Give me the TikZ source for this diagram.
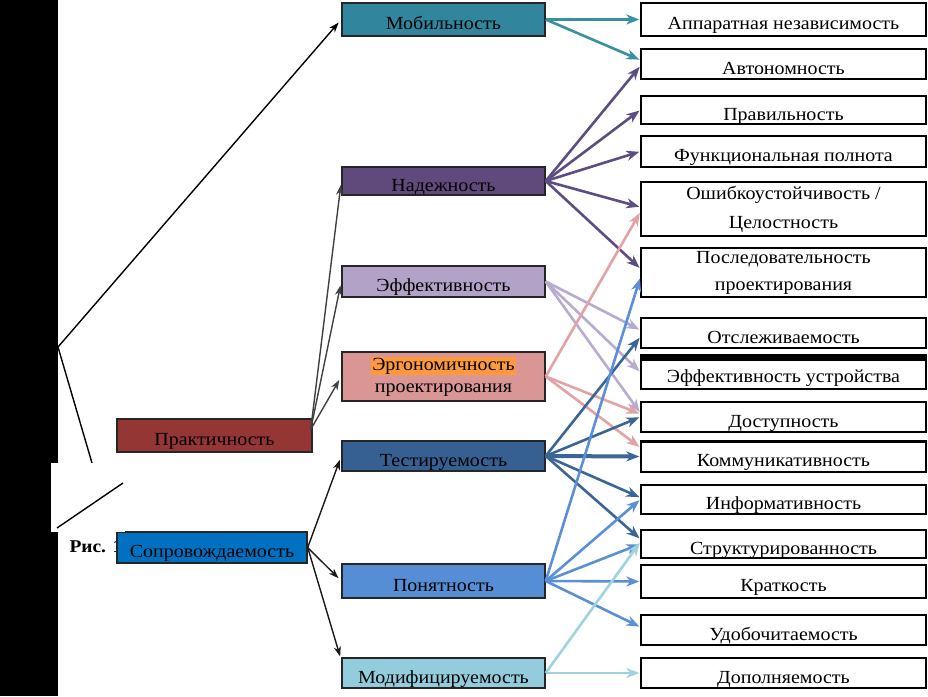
\documentclass[tikz,border=0pt]{standalone}
\usepackage{fontspec}
\setmainfont{Liberation Serif}[FakeStretch=1.08]
\usetikzlibrary{arrows.meta,calc}
\definecolor{cMob}{HTML}{31859C}
\definecolor{cNad}{HTML}{604A7B}
\definecolor{cEff}{HTML}{B3A2C7}
\definecolor{cErg}{HTML}{DA9694}
\definecolor{cOrg}{HTML}{FF9A3C}
\definecolor{cTest}{HTML}{376092}
\definecolor{cPon}{HTML}{558ED5}
\definecolor{cMod}{HTML}{93CDDD}
\definecolor{cPrakt}{HTML}{943634}
\definecolor{cSopr}{HTML}{0070C0}
\definecolor{lMob}{HTML}{3A8FA0}
\definecolor{lNad}{HTML}{5E4C84}
\definecolor{lEff}{HTML}{B9AACF}
\definecolor{lErg}{HTML}{E3A3A6}
\definecolor{lTest}{HTML}{3B6595}
\definecolor{lPon}{HTML}{5B8FD8}
\definecolor{lMod}{HTML}{9FD3DE}
\begin{document}
\begin{tikzpicture}[x=1pt,y=-1pt,
  font=\fontsize{18.5}{29}\selectfont,
  base/.style={draw=black!85, line width=1.4pt, inner sep=0pt, anchor=center, text=black},
  one/.style={text height=20.5pt, text depth=0pt},
  two/.style={align=center},
  midbox/.style={base, minimum width=203pt},
  rbox/.style={base, draw=black, fill=white, minimum width=285pt},
  conn/.style={line width=2.6pt, -{Stealth[length=13pt,width=10pt,inset=4pt]}, shorten >=1pt},
  lconn/.style={line width=1.4pt, black!75, -{Stealth[length=10pt,width=7pt,inset=3pt]}, shorten >=4pt}]
\useasboundingbox[fill=white] (0,0) rectangle (928,696);

% left artefacts
\fill[black] (0,0) rectangle (58,696);
\coordinate (hub) at (58,347);
\coordinate (cut) at (92,463);
\coordinate (s1) at (57,528);
\coordinate (s2) at (123,483);

% middle boxes
\node[midbox, fill=cMob, minimum height=33pt, one] (mob) at (443.5,19.5) {Мобильность};
\node[midbox, fill=cNad, minimum height=28pt, one] (nad) at (443.5,181) {Надежность};
\node[midbox, fill=cEff, minimum height=31pt, one] (eff) at (443.5,281.5) {Эффективность};
\node[midbox, fill=cErg, minimum height=49pt, two, font=\fontsize{18.5}{22}\selectfont] (erg) at (443.5,376.5) {{\fboxsep=1.2pt\colorbox{cOrg}{Эргономичность}}\\проектирования};
\node[midbox, fill=cTest, minimum height=30pt, one] (test) at (443.5,456) {Тестируемость};
\node[midbox, fill=cPon, minimum height=34pt, one] (pon) at (443.5,581) {Понятность};
\node[midbox, fill=cMod, minimum height=30pt, one] (mod) at (443.5,673) {Модифицируемость};

% right boxes
\node[rbox, minimum height=33pt, one] (r1) at (783.5,19.5) {Аппаратная независимость};
\node[rbox, minimum height=30pt, one] (r2) at (783.5,64) {Автономность};
\node[rbox, minimum height=28pt, one] (r3) at (783.5,110) {Правильность};
\node[rbox, minimum height=31pt, one] (r4) at (783.5,151.5) {Функциональная полнота};
\node[rbox, minimum height=54pt, two] (r5) at (783.5,209) {Ошибкоустойчивость /\\Целостность};
\node[rbox, minimum height=49pt, two, font=\fontsize{18.5}{27}\selectfont] (r6) at (783.5,272.5) {Последовательность\\проектирования};
\node[rbox, minimum height=30pt, one] (r7) at (783.5,333) {Отслеживаемость};
\node[rbox, minimum height=34pt, one] (r8) at (783.5,372) {Эффективность устройства};
\node[rbox, minimum height=30pt, one] (r9) at (783.5,417) {Доступность};
\node[rbox, minimum height=31pt, one] (r10) at (783.5,456.5) {Коммуникативность};
\node[rbox, minimum height=29pt, one] (r11) at (783.5,499.5) {Информативность};
\node[rbox, minimum height=28pt, one] (r12) at (783.5,544) {Структурированность};
\node[rbox, minimum height=33pt, one] (r13) at (783.5,581.5) {Краткость};
\node[rbox, minimum height=30pt, one] (r14) at (783.5,630) {Удобочитаемость};
\node[rbox, minimum height=30pt, one] (r15) at (783.5,673) {Дополняемость};
\fill[black] (r8.north west) rectangle ($(r8.north east)+(0,7)$);
\fill[black] (r10.north west) rectangle ($(r10.north east)+(0,3)$);

% left boxes
\node[anchor=west, font=\bfseries\fontsize{18}{20}\selectfont] (fig) at (66,547) {Рис. 1.};
\node[base, fill=cPrakt, minimum width=195pt, minimum height=33pt, one] (prakt) at (214.5,435.5) {Практичность};
\node[base, fill=cSopr, minimum width=190pt, minimum height=31pt, one] (sopr) at (212,547.5) {Сопровождаемость};

% left connectors
\draw[lconn, black] (hub) -- (mob.west);
\draw[line width=1.4pt, black] (hub) -- (cut);
\fill[white] (51,463) rectangle (125,532);
\draw[line width=1.4pt, black] (s1) -- (s2);
\coordinate (po) at ($(prakt.east)+(-2,-6)$);
\draw[lconn] (po) -- (nad.west);
\draw[lconn] (po) -- (eff.west);
\draw[lconn] (po) -- (erg.west);
\draw[lconn, black!90] (sopr.east) -- (test.west);
\draw[lconn, black!90] (sopr.east) -- (pon.west);
\draw[lconn, black!90] (sopr.east) -- ($(mod.north west)+(0,3)$);

% right connectors
\draw[conn, lMob] (mob.east) -- (r1.west);
\draw[conn, lMob] (mob.east) -- ($(r2.west)+(0,-4)$);
\draw[conn, lNad] (nad.east) -- ($(r2.west)+(0,2)$);
\draw[conn, lNad] (nad.east) -- (r3.west);
\draw[conn, lNad] (nad.east) -- (r4.west);
\draw[conn, lNad] (nad.east) -- ($(r5.west)+(0,-2)$);
\draw[conn, lNad] (nad.east) -- ($(r6.west)+(0,-4)$);
\draw[conn, lEff] (eff.east) -- ($(r7.west)+(0,-3)$);
\draw[conn, lEff] (eff.east) -- (r8.west);
\draw[conn, lEff] (eff.east) -- ($(r9.west)+(0,-4)$);
\draw[conn, lErg] (erg.east) -- ($(r5.west)+(0,3)$);
\draw[conn, lErg] (erg.east) -- ($(r9.west)+(0,-3)$);
\draw[conn, lErg] (erg.east) -- ($(r10.west)+(0,-9)$);
\draw[conn, lTest] (test.east) -- ($(r7.west)+(0,4)$);
\draw[conn, lTest] (test.east) -- (r9.west);
\draw[conn, lTest, line width=4pt] (test.east) -- (r10.west);
\draw[conn, lTest] (test.east) -- ($(r11.west)+(0,-2)$);
\draw[conn, lTest] (test.east) -- ($(r12.west)+(0,-5)$);
\draw[conn, lPon] (pon.east) -- ($(r6.west)+(0,5)$);
\draw[conn, lPon] (pon.east) -- (r11.west);
\draw[conn, lPon] (pon.east) -- (r12.west);
\draw[conn, lPon] (pon.east) -- (r13.west);
\draw[conn, lPon] (pon.east) -- ($(r14.west)+(0,-3)$);
\draw[conn, lMod] (mod.east) -- ($(r12.west)+(0,-2)$);
\draw[conn, lMod] (mod.east) -- (r15.west);
\end{tikzpicture}
\end{document}
